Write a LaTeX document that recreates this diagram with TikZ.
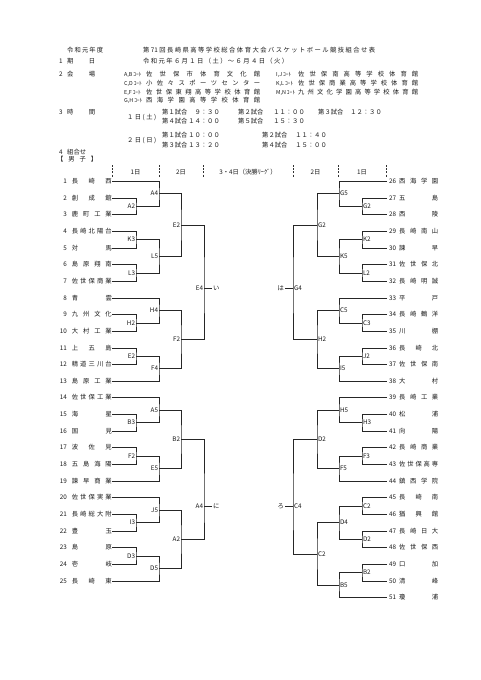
\documentclass[tikz,border=0pt]{standalone}
\usepackage{fontspec}
\setmainfont{Noto Sans CJK JP}
\usetikzlibrary{positioning}
\newcommand\hdfont{\fontsize{6.3pt}{7.5pt}\selectfont}
% spread the characters of a name evenly over a given width
\makeatletter
\newcommand\spread[2]{%
  \edef\sp@list{#2}%
  \makebox[#1][s]{\let\sp@sep\relax
    \expandafter\@tfor\expandafter\sp@c\expandafter:\expandafter=\sp@list\do{\sp@sep\sp@c\let\sp@sep\hfill}}}
\makeatother

\begin{document}
\begin{tikzpicture}[
  x=1pt, y=-1pt,
  every node/.style={font=\hdfont, text=black!90},
  hd/.style={anchor=west, inner sep=0pt, text height=5pt, text depth=1pt},
  court/.style={hd, font=\fontsize{5.4pt}{6pt}\selectfont},
  team/.style={inner sep=0pt, text height=5pt, text depth=1pt},
  lbl/.style={inner sep=0.8pt, text height=5pt, text depth=1pt},
  brk/.style={draw=black!85, line width=1pt},
  daysep/.style={draw=black!80, line width=0.9pt, dash pattern=on 2pt off 1.2pt},
]
\path[use as bounding box, fill=white] (0,0) rectangle (481,680);

% header
\node[hd] (year) at (67,50.5) {\spread{36pt}{令和元年度}};
\node[hd] (title) at (143,50.5) {\spread{232pt}{第{71}回長崎県高等学校総合体育大会バスケットボール競技組合せ表}};
\node[hd] (no1) at (59,61.5) {1};
\node[hd] (item1) at (67,61.5) {\spread{28pt}{期日}};
\node[hd] (date) at (143,61.5) {\spread{145pt}{令和元年６月１日（土）～６月４日（火）}};
\node[hd] (no2) at (59,74) {2};
\node[hd] (item2) at (67,74) {\spread{28pt}{会場}};
\foreach \a/\b/\v/\yy in {A/B/佐世保市体育文化館/74, C/D/小佐々スポーツセンター/83,
                          E/F/佐世保東翔高等学校体育館/92, G/H/西海学園高等学校体育館/100.5}{
  \node[court] (crt\a) at (124,\yy) {\a,\b\,ｺｰﾄ};
  \node[hd] (hall\a) at (146,\yy) {\spread{114pt}{\v}};
}
\foreach \a/\b/\v/\yy in {I/J/佐世保南高等学校体育館/74, K/L/佐世保商業高等学校体育館/83,
                          M/N/九州文化学園高等学校体育館/92}{
  \node[court] (crt\a) at (276,\yy) {\a,\b\,ｺｰﾄ};
  \node[hd] (hall\a) at (298,\yy) {\spread{120pt}{\v}};
}
\node[hd] (no3) at (59,112.5) {3};
\node[hd] (item3) at (67,112.5) {\spread{28pt}{時間}};
\node[hd] (day1) at (127,117) {\spread{29pt}{１日(土)}};
\node[hd] (day2) at (127,140.5) {\spread{29pt}{２日(日)}};
\foreach \g/\x/\yy/\h/\xe [count=\k] in {第１試合/162/112.5/９：３０/220, 第２試合/238/112.5/１１：００/305,
    第３試合/318/112.5/１２：３０/382, 第４試合/162/121.5/１４：００/220, 第５試合/238/121.5/１５：３０/305,
    第１試合/162/135.5/１０：００/220, 第２試合/262/135.5/１１：４０/327,
    第３試合/162/145.5/１３：２０/220, 第４試合/262/145.5/１５：００/327}{
  \node[hd] (game\k) at (\x,\yy) {\g};
  \node[hd, anchor=east] (time\k) at (\xe,\yy) {\h};
}
\node[hd] (no4) at (59,152.5) {4};
\node[hd] (item4) at (67,152.5) {組合せ};
\node[hd] (boys) at (57,159.5) {\spread{40pt}{【男子】}};

% day columns
\foreach \x in {112,159,203,293,338,386}
  \draw[daysep] (\x,165) -- (\x,177);
\node[lbl] (d1) at (135.5,172) {1日};
\node[lbl] (d2) at (181,172) {2日};
\node[lbl] (d34) at (248,172) {3・4日（決勝ﾘｰｸﾞ）};
\node[lbl] (d2r) at (315.5,172) {2日};
\node[lbl] (d1r) at (362,172) {1日};

% teams
\foreach \i/\nm in {1/長崎西, 2/創成館, 3/鹿町工業, 4/長崎北陽台, 5/対馬, 6/島原翔南, 7/佐世保商業,
    8/青雲, 9/九州文化, 10/大村工業, 11/上五島, 12/精道三川台, 13/島原工業, 14/佐世保工業,
    15/海星, 16/国見, 17/波佐見, 18/五島海陽, 19/諫早商業, 20/佐世保実業, 21/長崎総大附,
    22/豊玉, 23/島原, 24/壱岐, 25/長崎東}
  \node[team, anchor=east] (L\i) at (112,{181.5+(\i-1)*16.65})
    {\makebox[8pt][r]{\i}\hspace{5pt}\spread{40pt}{\nm}\hspace{1pt}};
\foreach \i/\nm in {26/西海学園, 27/五島, 28/西陵, 29/長崎南山, 30/諫早, 31/佐世保北, 32/長崎明誠,
    33/平戸, 34/長崎鶴洋, 35/川棚, 36/長崎北, 37/佐世保南, 38/大村, 39/長崎工業, 40/松浦,
    41/向陽, 42/長崎商業, 43/佐世保高専, 44/鎮西学院, 45/長崎南, 46/猶興館, 47/長崎日大,
    48/佐世保西, 49/口加, 50/清峰, 51/瓊浦}
  \node[team, anchor=west] (R\i) at (387,{181.5+(\i-26)*16.65})
    {\hspace{2pt}\makebox[8pt][l]{\i}\hspace{2pt}\spread{39pt}{\nm}};

% left bracket
\coordinate (mA2) at (136,206.48);
\coordinate (mA4) at (159,193.99);
\coordinate (mK3) at (136,239.78);
\coordinate (mL3) at (136,273.08);
\coordinate (mL5) at (159,256.43);
\coordinate (mE2) at (181,225.21);
\coordinate (mH2) at (136,323.03);
\coordinate (mH4) at (159,310.54);
\coordinate (mE2b) at (136,356.33);
\coordinate (mF4) at (159,368.81);
\coordinate (mF2) at (181,339.68);
\coordinate (mE4) at (204,288);
\coordinate (mB3) at (136,422.93);
\coordinate (mA5) at (159,410.44);
\coordinate (mF2b) at (136,456.23);
\coordinate (mE5) at (159,468.71);
\coordinate (mB2) at (181,439.58);
\coordinate (mI3) at (136,522.83);
\coordinate (mJ5) at (159,510.34);
\coordinate (mD3) at (136,556.13);
\coordinate (mD5) at (159,568.61);
\coordinate (mA2b) at (181,539.48);
\coordinate (mA4b) at (204,506.5);

\draw[brk] (L2.east) -| (mA2) |- (L3.east);
\draw[brk] (L1.east) -| (mA4) |- (mA2);
\draw[brk] (L4.east) -| (mK3) |- (L5.east);
\draw[brk] (L6.east) -| (mL3) |- (L7.east);
\draw[brk] (mK3) -| (mL5) |- (mL3);
\draw[brk] (mA4) -| (mE2) |- (mL5);
\draw[brk] (L9.east) -| (mH2) |- (L10.east);
\draw[brk] (L8.east) -| (mH4) |- (mH2);
\draw[brk] (L11.east) -| (mE2b) |- (L12.east);
\draw[brk] (mE2b) -| (mF4) |- (L13.east);
\draw[brk] (mH4) -| (mF2) |- (mF4);
\draw[brk] (mE2) -| (mE4) |- (mF2);
\draw[brk] (L15.east) -| (mB3) |- (L16.east);
\draw[brk] (L14.east) -| (mA5) |- (mB3);
\draw[brk] (L17.east) -| (mF2b) |- (L18.east);
\draw[brk] (mF2b) -| (mE5) |- (L19.east);
\draw[brk] (mA5) -| (mB2) |- (mE5);
\draw[brk] (L21.east) -| (mI3) |- (L22.east);
\draw[brk] (L20.east) -| (mJ5) |- (mI3);
\draw[brk] (L23.east) -| (mD3) |- (L24.east);
\draw[brk] (mD3) -| (mD5) |- (L25.east);
\draw[brk] (mJ5) -| (mA2b) |- (mD5);
\draw[brk] (mB2) -| (mA4b) |- (mA2b);

\foreach \m/\t in {mA2/A2, mA4/A4, mK3/K3, mL3/L3, mL5/L5, mE2/E2, mH2/H2, mH4/H4, mE2b/E2,
    mF4/F4, mF2/F2, mE4/E4, mB3/B3, mA5/A5, mF2b/F2, mE5/E5, mB2/B2, mI3/I3, mJ5/J5,
    mD3/D3, mD5/D5, mA2b/A2, mA4b/A4}
  \node[lbl, anchor=east] (t\m) at (\m) {\t};

\node[lbl, anchor=west] (ii) at (212,288) {い};
\node[lbl, anchor=west] (ni) at (212,506.5) {に};
\draw[brk] (mE4) -- (ii.west);
\draw[brk] (mA4b) -- (ni.west);

% right bracket
\coordinate (nG2) at (362,206.48);
\coordinate (nG5) at (339,193.99);
\coordinate (nK2) at (362,239.78);
\coordinate (nL2) at (362,273.08);
\coordinate (nK5) at (339,256.43);
\coordinate (nG2b) at (317,225.21);
\coordinate (nC3) at (362,323.03);
\coordinate (nC5) at (339,310.54);
\coordinate (nJ2) at (362,356.33);
\coordinate (nI5) at (339,368.81);
\coordinate (nH2) at (317,339.68);
\coordinate (nG4) at (293,288);
\coordinate (nH3) at (362,422.93);
\coordinate (nH5) at (339,410.44);
\coordinate (nF3) at (362,456.23);
\coordinate (nF5) at (339,468.71);
\coordinate (nD2) at (317,439.58);
\coordinate (nC2) at (362,506.18);
\coordinate (nD2b) at (362,539.48);
\coordinate (nD4) at (339,522.83);
\coordinate (nB2) at (362,572.78);
\coordinate (nB5) at (339,585.26);
\coordinate (nC2b) at (317,554.04);
\coordinate (nC4) at (293,506.5);

\draw[brk] (R27.west) -| (nG2) |- (R28.west);
\draw[brk] (R26.west) -| (nG5) |- (nG2);
\draw[brk] (R29.west) -| (nK2) |- (R30.west);
\draw[brk] (R31.west) -| (nL2) |- (R32.west);
\draw[brk] (nK2) -| (nK5) |- (nL2);
\draw[brk] (nG5) -| (nG2b) |- (nK5);
\draw[brk] (R34.west) -| (nC3) |- (R35.west);
\draw[brk] (R33.west) -| (nC5) |- (nC3);
\draw[brk] (R36.west) -| (nJ2) |- (R37.west);
\draw[brk] (nJ2) -| (nI5) |- (R38.west);
\draw[brk] (nC5) -| (nH2) |- (nI5);
\draw[brk] (nG2b) -| (nG4) |- (nH2);
\draw[brk] (R40.west) -| (nH3) |- (R41.west);
\draw[brk] (R39.west) -| (nH5) |- (nH3);
\draw[brk] (R42.west) -| (nF3) |- (R43.west);
\draw[brk] (nF3) -| (nF5) |- (R44.west);
\draw[brk] (nH5) -| (nD2) |- (nF5);
\draw[brk] (R45.west) -| (nC2) |- (R46.west);
\draw[brk] (R47.west) -| (nD2b) |- (R48.west);
\draw[brk] (nC2) -| (nD4) |- (nD2b);
\draw[brk] (R49.west) -| (nB2) |- (R50.west);
\draw[brk] (nB2) -| (nB5) |- (R51.west);
\draw[brk] (nD4) -| (nC2b) |- (nB5);
\draw[brk] (nD2) -| (nC4) |- (nC2b);

\foreach \m/\t in {nG2/G2, nG5/G5, nK2/K2, nL2/L2, nK5/K5, nG2b/G2, nC3/C3, nC5/C5, nJ2/J2,
    nI5/I5, nH2/H2, nG4/G4, nH3/H3, nH5/H5, nF3/F3, nF5/F5, nD2/D2, nC2/C2, nD2b/D2,
    nD4/D4, nB2/B2, nB5/B5, nC2b/C2, nC4/C4}
  \node[lbl, anchor=west] (t\m) at (\m) {\t};

\node[lbl, anchor=east] (ha) at (285,288) {は};
\node[lbl, anchor=east] (ro) at (285,506.5) {ろ};
\draw[brk] (nG4) -- (ha.east);
\draw[brk] (nC4) -- (ro.east);
\end{tikzpicture}
\end{document}
